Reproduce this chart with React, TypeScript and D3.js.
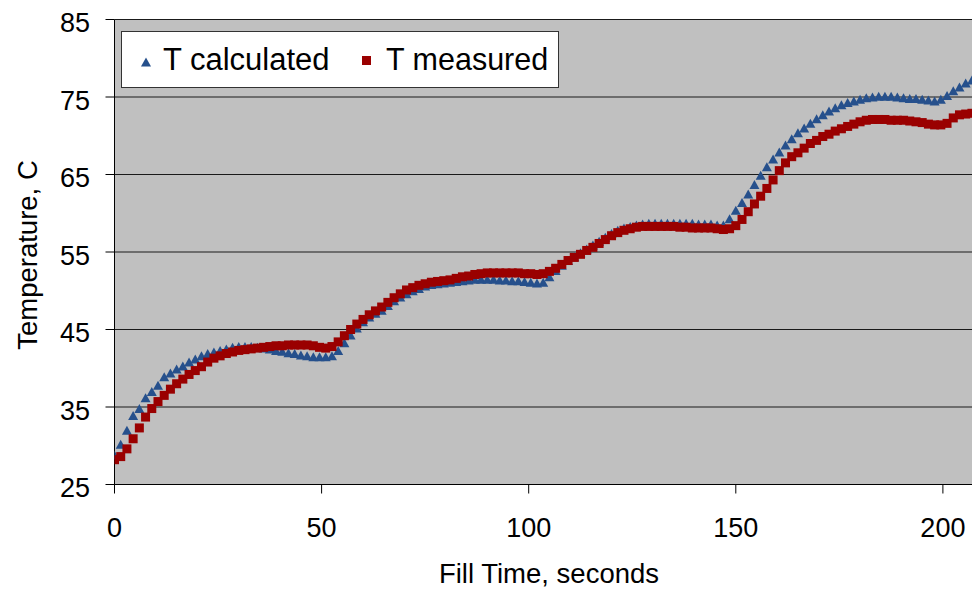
import React from "react";
import * as d3 from "d3";

const timeStep = 1.5;

const tCalculated = [
  28.8, 30.2, 32.0, 33.9, 34.8, 36.2, 37.0, 37.8, 38.9, 39.4,
  39.9, 40.3, 40.8, 41.2, 41.6, 41.9, 42.1, 42.3, 42.5, 42.7,
  42.8, 42.8, 42.8, 42.7, 42.6, 42.5, 42.3, 42.2, 42.0, 41.9,
  41.7, 41.6, 41.5, 41.5, 41.5, 41.6, 42.3, 43.3, 44.3, 45.2,
  46.0, 46.6, 47.1, 47.5, 48.1, 48.7, 49.2, 49.6, 50.0, 50.3,
  50.6, 50.8, 50.9, 51.0, 51.1, 51.2, 51.3, 51.4, 51.5, 51.5,
  51.5, 51.5, 51.4, 51.4, 51.3, 51.3, 51.2, 51.1, 51.0, 51.1,
  51.8, 52.6, 53.3, 53.9, 54.4, 54.9, 55.4, 55.9, 56.4, 56.9,
  57.4, 57.8, 58.1, 58.3, 58.5, 58.6, 58.7, 58.7, 58.7, 58.7,
  58.7, 58.7, 58.7, 58.7, 58.6, 58.6, 58.6, 58.5, 58.5, 59.3,
  60.4, 61.4, 62.5, 63.7, 64.9, 66.0, 67.0, 67.9, 68.8, 69.6,
  70.4, 71.0, 71.6, 72.2, 72.7, 73.2, 73.6, 74.0, 74.3, 74.5,
  74.7, 74.9, 75.0, 75.1, 75.1, 75.1, 75.0, 74.9, 74.8, 74.8,
  74.7, 74.6, 74.5, 74.7, 75.2, 75.8, 76.3, 76.8, 77.2,
];

const tMeasured = [
  28.2, 28.6, 29.6, 30.9, 32.3, 33.7, 34.8, 35.7, 36.5, 37.3,
  38.0, 38.6, 39.2, 39.7, 40.2, 40.8, 41.3, 41.6, 41.9, 42.1,
  42.3, 42.4, 42.5, 42.6, 42.7, 42.8, 42.9, 42.9, 43.0, 43.0,
  43.0, 43.0, 42.9, 42.7, 42.6, 42.8, 43.4, 44.2, 45.0, 45.7,
  46.3, 46.9, 47.4, 47.9, 48.5, 49.1, 49.6, 50.1, 50.4, 50.7,
  50.9, 51.1, 51.2, 51.3, 51.4, 51.6, 51.8, 51.9, 52.1, 52.2,
  52.3, 52.3, 52.3, 52.3, 52.3, 52.3, 52.2, 52.2, 52.1, 52.2,
  52.5, 52.9, 53.4, 53.9, 54.3, 54.7, 55.2, 55.6, 56.1, 56.6,
  57.1, 57.5, 57.8, 58.0, 58.2, 58.3, 58.3, 58.3, 58.3, 58.3,
  58.3, 58.2, 58.2, 58.1, 58.1, 58.1, 58.1, 58.0, 57.9, 58.0,
  58.4, 59.2, 60.2, 61.2, 62.2, 63.2, 64.3, 65.5, 66.5, 67.3,
  67.8, 68.4, 69.0, 69.4, 69.9, 70.2, 70.6, 70.9, 71.2, 71.5,
  71.8, 72.0, 72.1, 72.1, 72.1, 72.0, 72.0, 72.0, 71.9, 71.8,
  71.7, 71.5, 71.4, 71.4, 71.6, 72.3, 72.7, 72.8, 72.9,
];

const xTicks = [0, 50, 100, 150, 200];
const yTicks = [25, 35, 45, 55, 65, 75, 85];
const seriesNames = ["T calculated", "T measured"];

const W = 972;
const H = 589;
const BLUE = "#26508C";
const RED = "#9A0000";
const FONT = "'Liberation Sans', Arial, sans-serif";

export default function App() {
  const x = d3.scaleLinear().domain([0, 207]).range([114.5, 971.9]);
  const y = d3.scaleLinear().domain([25, 85]).range([484.5, 19.5]);
  const left = x(0);
  const bottom = y(25);
  const top = y(85);

  const tri = (cx: number, cy: number, w = 10, h = 9) =>
    `M${cx - w / 2},${cy + h / 2}L${cx + w / 2},${cy + h / 2}L${cx},${cy - h / 2}Z`;

  const sq = 9;

  return (
    <svg
      width={W}
      height={H}
      style={{ position: "absolute", left: 0, top: 0, display: "block", background: "#fff" }}
      fontFamily={FONT}
    >
      <defs>
        <clipPath id="plotClip">
          <rect x={left} y={top - 6} width={W - left} height={bottom - top + 6} />
        </clipPath>
      </defs>
      <rect x={left} y={top} width={W - left} height={bottom - top} fill="#C0C0C0" />
      {yTicks.map((t) => (
        <line key={"g" + t} x1={left} x2={W} y1={y(t)} y2={y(t)} stroke="#1a1a1a" strokeWidth={1} />
      ))}
      <line x1={left} x2={left} y1={top} y2={bottom} stroke="#000" strokeWidth={1} />
      <line x1={left} x2={W} y1={bottom} y2={bottom} stroke="#000" strokeWidth={1} />
      {yTicks.map((t) => (
        <g key={"y" + t}>
          <line x1={left - 9} x2={left} y1={y(t)} y2={y(t)} stroke="#000" />
          <text x={90} y={y(t) + 12.5} textAnchor="end" fontSize={27} fill="#000">
            {t}
          </text>
        </g>
      ))}
      {xTicks.map((t) => (
        <g key={"x" + t}>
          <line x1={x(t)} x2={x(t)} y1={bottom} y2={bottom + 9} stroke="#000" />
          <text x={x(t)} y={537} textAnchor="middle" fontSize={27} fill="#000">
            {t}
          </text>
        </g>
      ))}
      <g clipPath="url(#plotClip)">
        {tCalculated.map((v, i) => (
          <path key={"c" + i} d={tri(x(i * timeStep), y(v))} fill={BLUE} />
        ))}
        {tMeasured.map((v, i) => (
          <rect
            key={"m" + i}
            x={x(i * timeStep) - sq / 2}
            y={y(v) - sq / 2}
            width={sq}
            height={sq}
            fill={RED}
          />
        ))}
      </g>
      <rect x={121.5} y={31.5} width={437} height={56} fill="#fff" stroke="#333" strokeWidth={1} />
      <path d={tri(146, 62, 10, 9)} fill={BLUE} />
      <text x={163} y={70} fontSize={31} fill="#000">
        {seriesNames[0]}
      </text>
      <rect x={362} y={56} width={9} height={9} fill={RED} />
      <text x={386} y={70} fontSize={30.5} fill="#000">
        {seriesNames[1]}
      </text>
      <text
        transform={`translate(37, ${(top + bottom) / 2 + 3}) rotate(-90)`}
        textAnchor="middle"
        fontSize={27.5}
        fill="#000"
      >
        Temperature, C
      </text>
      <text x={549} y={583} textAnchor="middle" fontSize={27.5} fill="#000">
        Fill Time, seconds
      </text>
    </svg>
  );
}
